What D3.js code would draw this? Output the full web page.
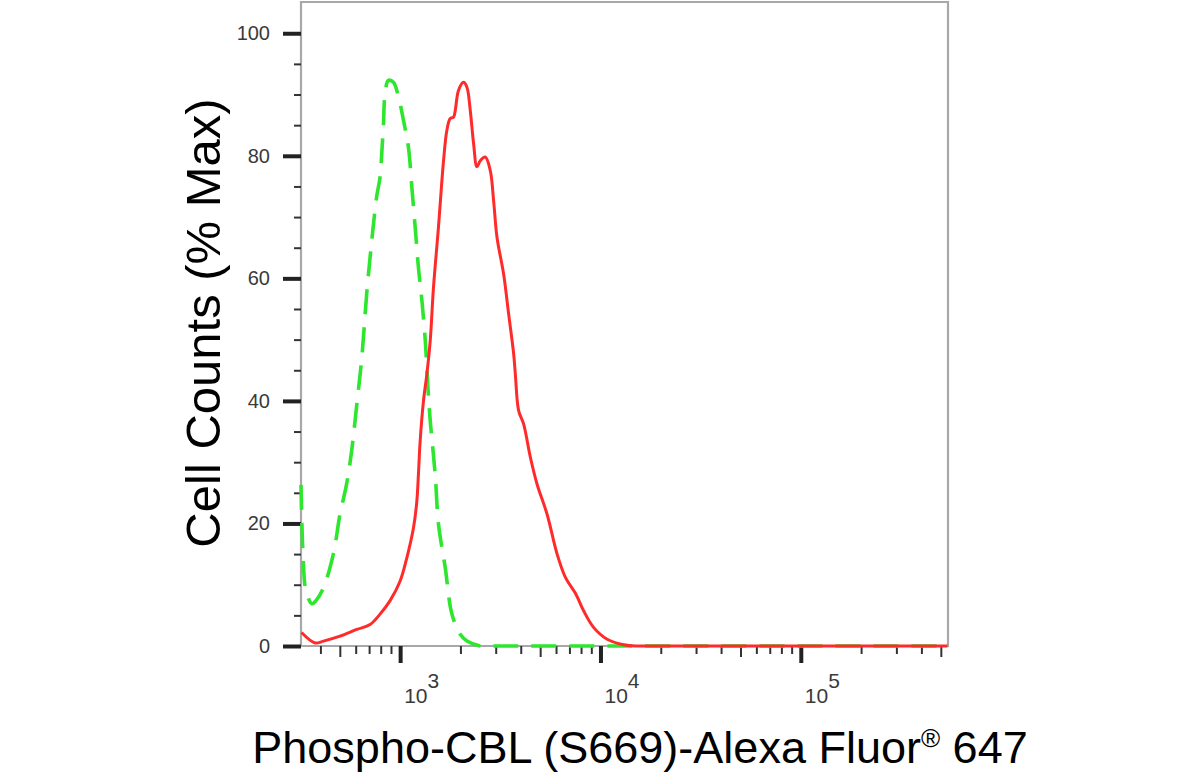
<!DOCTYPE html>
<html>
<head>
<meta charset="utf-8">
<script src="https://cdn.jsdelivr.net/npm/d3@7"></script>
<style>
  body { margin: 0; background: #fff; }
  svg { display: block; }
  .tick-label { font-family: "Liberation Sans", Arial, sans-serif; font-size: 20px; fill: #3a3a3a; }
  .axis-title { font-family: "Liberation Sans", Arial, sans-serif; font-size: 45px; fill: #000; }
</style>
</head>
<body>
<svg id="FlowVis" width="1196" height="781"></svg>
<script>

/* DATA: fluorescence intensity, % of max */

// isotype control (green dashed)
const controlIntensity = [320, 327, 339, 363, 380, 414, 464, 501, 541, 573, 608, 644, 681, 722,
  765, 794, 810, 825, 841, 874, 926, 981, 1039, 1100, 1144, 1189, 1234, 1284, 1334, 1372,
  1413, 1496, 1554, 1679, 1814, 1995, 2155, 2512, 2900, 3300, 540000];
const controlCounts = [26.3, 15.5, 9, 6.9, 7.4, 9.5, 15, 21.5, 26.5, 31.9, 39.5, 47.1, 57.5, 66.2,
  73.5, 76.5, 80.5, 85, 90.1, 92.3, 92, 89.6, 85.8, 81.4, 74.9, 68.3, 61.8, 56.4, 50, 43,
  36.8, 28, 19.9, 12.8, 5.2, 1.9, 0.8, 0, 0, 0, 0];

// Phospho-CBL (S669) stained (red)
const stainedIntensity = [322, 376, 414, 501, 608, 708, 794, 891, 1000, 1080, 1166, 1212, 1234,
  1259, 1308, 1360, 1413, 1467, 1554, 1647, 1712, 1778, 1847, 1884, 1957, 2073, 2155, 2239,
  2326, 2418, 2512, 2661, 2818, 2928, 3044, 3285, 3480, 3686, 3758, 3904, 4136, 4467, 4826,
  5414, 6075, 6683, 7499, 8253, 9259, 10800, 13080, 15260, 18000, 21000, 540000];
const stainedCounts = [2.2, 0.5, 0.8, 1.6, 2.7, 3.5, 5.2, 7.4, 10.6, 14.4, 19.3, 23.7, 28,
  33.5, 40, 44.4, 49.8, 58.5, 68.4, 79.2, 84.2, 86.1, 86.3, 87.4, 90.7, 92, 91.2, 87.4,
  82, 78.2, 79.2, 79.8, 77.6, 72.7, 66.7, 60.7, 54.2, 47.7, 44.4, 38.4, 36.2, 30.8, 26.4,
  21.5, 15, 11.2, 8.6, 5.7, 3, 1.1, 0.2, 0, 0, 0, 0];

// axis
const xDomain = [320, 543000];
const yDomain = [0, 105.1];
const xMajorTicks = [1e3, 1e4, 1e5];
const xExponents = ["3", "4", "5"];
const yMajorTicks = [0, 20, 40, 60, 80, 100];


/*******************************************************************************/

const margin = { top: 2, left: 301, right: 248, bottom: 135 };

const svg = d3.select("svg#FlowVis");
const width = +svg.attr("width");
const height = +svg.attr("height");
const plotWidth = width - margin.left - margin.right;
const plotHeight = height - margin.top - margin.bottom;

const plot = svg.append("g")
  .attr("id", "plot")
  .attr("transform", translate(margin.left, margin.top));

/* SCALES */
const x = d3.scaleLog().domain(xDomain).range([0, plotWidth]);
const y = d3.scaleLinear().domain(yDomain).range([plotHeight, 0]);

/* FRAME */
plot.append("path")
  .attr("d", "M0," + plotHeight + "V0H" + plotWidth + "V" + plotHeight + "H0")
  .attr("fill", "none")
  .attr("stroke", "#a8a8a8")
  .attr("stroke-width", 2.2);

/* Y AXIS */
const yMinor = d3.range(5, 105, 5).filter(d => d % 20 !== 0);

const yMinorAxis = d3.axisLeft(y).tickValues(yMinor).tickSize(7).tickFormat("");
const yMajorAxis = d3.axisLeft(y).tickValues(yMajorTicks).tickSize(18).tickPadding(13);

const yMinorGroup = plot.append("g").attr("class", "axis").call(yMinorAxis);
const yMajorGroup = plot.append("g").attr("class", "axis").call(yMajorAxis);

[yMinorGroup, yMajorGroup].forEach(g => g.select(".domain").remove());
yMinorGroup.selectAll("line").attr("stroke", "#333").attr("stroke-width", 2);
yMajorGroup.selectAll("line").attr("stroke", "#222").attr("stroke-width", 4);
yMajorGroup.selectAll("text")
  .attr("class", "tick-label")
  .attr("font-size", null)
  .attr("font-family", null);

/* X AXIS */
let xMinor = [];
[100, 1000, 10000, 100000].forEach(base => {
  d3.range(2, 10).forEach(k => {
    const v = k * base;
    if (v > xDomain[0] && v < xDomain[1]) xMinor.push(v);
  });
});

const xMinorAxis = d3.axisBottom(x).tickValues(xMinor.filter(v => !isFive(v))).tickSize(8).tickFormat("");
const xFiveAxis = d3.axisBottom(x).tickValues(xMinor.filter(isFive)).tickSize(11).tickFormat("");
const xMajorAxis = d3.axisBottom(x).tickValues(xMajorTicks).tickSize(17).tickFormat("");

[xMinorAxis, xFiveAxis, xMajorAxis].forEach((axis, i) => {
  const g = plot.append("g")
    .attr("class", "axis")
    .attr("transform", translate(0, plotHeight))
    .call(axis);
  g.select(".domain").remove();
  g.selectAll("line")
    .attr("stroke", i === 2 ? "#222" : "#333")
    .attr("stroke-width", i === 2 ? 4 : 2);
});

const xLabels = plot.append("g").attr("id", "x-labels")
  .selectAll("text")
  .data(xMajorTicks)
  .enter()
  .append("text")
  .attr("class", "tick-label")
  .style("font-size", "21px")
  .attr("x", d => x(d) + 4)
  .attr("y", plotHeight + 57);

xLabels.append("tspan").text("10");
xLabels.append("tspan")
  .attr("dy", -15)
  .text((d, i) => xExponents[i]);

/* CURVES */
const line = d3.line()
  .x(d => x(d[0]))
  .y(d => y(d[1]))
  .curve(d3.curveCatmullRom.alpha(0.5));

const control = d3.zip(controlIntensity, controlCounts);
const stained = d3.zip(stainedIntensity, stainedCounts);

plot.append("path")
  .datum(control)
  .attr("d", line)
  .attr("fill", "none")
  .attr("stroke", "#2ee62e")
  .attr("stroke-width", 3.6)
  .attr("stroke-dasharray", "25,13");

plot.append("path")
  .datum(stained)
  .attr("d", line)
  .attr("fill", "none")
  .attr("stroke", "#ff2a2a")
  .attr("stroke-width", 3);

/* AXIS TITLES */
const xTitle = svg.append("text")
  .attr("class", "axis-title")
  .attr("text-anchor", "middle")
  .attr("x", 640)
  .attr("y", 763);

xTitle.append("tspan").text("Phospho-CBL (S669)-Alexa Fluor");
xTitle.append("tspan").attr("font-size", "26px").attr("dy", -16).text("®");
xTitle.append("tspan").attr("dy", 16).text(" 647");

svg.append("g")
  .attr("transform", translate(220, 323) + " rotate(-90)")
  .append("text")
  .attr("class", "axis-title")
  .style("font-size", "49px")
  .attr("text-anchor", "middle")
  .text("Cell Counts (% Max)");


/*
 * true for the 5 x 10^n minor ticks, which are drawn a bit longer
 */
function isFive(v) {
  const e = Math.pow(10, Math.floor(Math.log10(v)));
  return Math.round(v / e) === 5;
}

/*
 * returns a translate string for the transform attribute
 */
function translate(x, y) {
  return 'translate(' + String(x) + ',' + String(y) + ')';
}

</script>
</body>
</html>
